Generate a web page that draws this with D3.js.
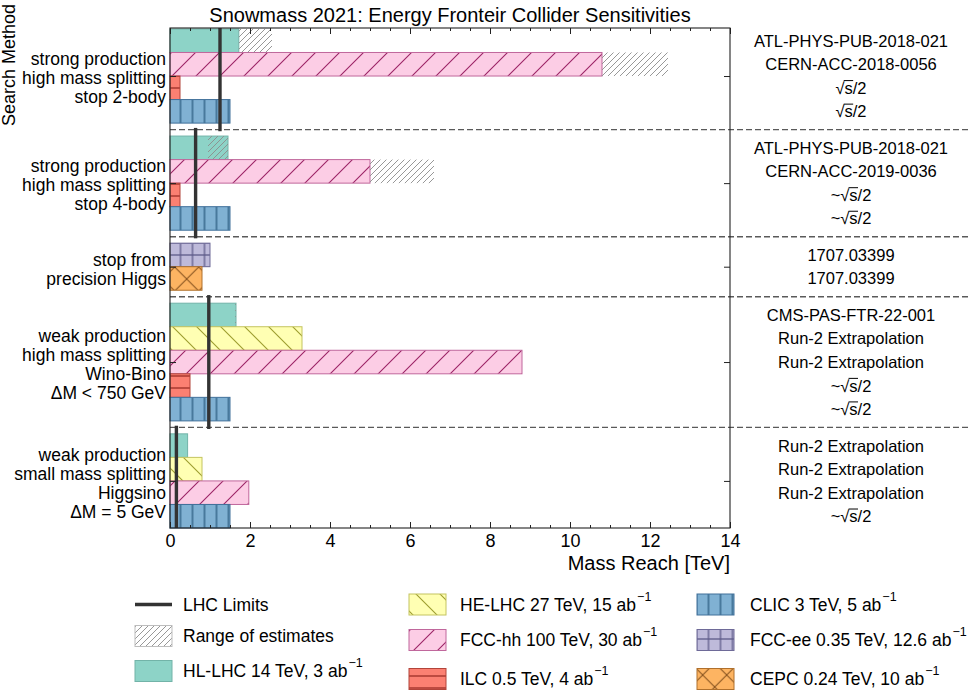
<!DOCTYPE html>
<html>
<head>
<meta charset="utf-8">
<script src="https://cdn.jsdelivr.net/npm/d3@7"></script>
<style>
  body { margin: 0; background: #fff; }
  svg { display: block; }
  text { font-family: "Liberation Sans", Arial, Helvetica, sans-serif; fill: #000; }
</style>
</head>
<body>
<svg id="chart" width="970" height="693"></svg>
<script>
// ---- Search groups (top to bottom) ----
const groupLabels = [
  ["strong production", "high mass splitting", "stop 2-body"],
  ["strong production", "high mass splitting", "stop 4-body"],
  ["stop from", "precision Higgs"],
  ["weak production", "high mass splitting", "Wino-Bino", "ΔM < 750 GeV"],
  ["weak production", "small mass splitting", "Higgsino", "ΔM = 5 GeV"]
];

// Collider shown in each row of each group
const groupColliders = [
  ["HL-LHC", "FCC-hh", "ILC", "CLIC"],
  ["HL-LHC", "FCC-hh", "ILC", "CLIC"],
  ["FCC-ee", "CEPC"],
  ["HL-LHC", "HE-LHC", "FCC-hh", "ILC", "CLIC"],
  ["HL-LHC", "HE-LHC", "FCC-hh", "CLIC"]
];

// Mass reach in TeV for each row
const groupReach = [
  [1.72, 10.8, 0.25, 1.5],
  [1.45, 5.0, 0.25, 1.5],
  [1.0, 0.8],
  [1.65, 3.3, 8.8, 0.5, 1.5],
  [0.44, 0.8, 1.97, 1.5]
];

// Reference for each row
const groupRefs = [
  ["ATL-PHYS-PUB-2018-021", "CERN-ACC-2018-0056", "√s/2", "√s/2"],
  ["ATL-PHYS-PUB-2018-021", "CERN-ACC-2019-0036", "~√s/2", "~√s/2"],
  ["1707.03399", "1707.03399"],
  ["CMS-PAS-FTR-22-001", "Run-2 Extrapolation", "Run-2 Extrapolation", "~√s/2", "~√s/2"],
  ["Run-2 Extrapolation", "Run-2 Extrapolation", "Run-2 Extrapolation", "~√s/2"]
];

// Current LHC limits per group (TeV); null where none is shown
const lhcLimits = [1.25, 0.64, null, 0.97, 0.16];

// Range of estimates: [group, row, from TeV, to TeV]
const estimateRanges = [
  [0, 0, 1.72, 2.55],
  [0, 1, 10.8, 12.45],
  [1, 0, 0.95, 1.45],
  [1, 1, 5.0, 6.6],
  [3, 0, 1.63, 1.65]
];

// Axis ticks
const xMajorTicks = [0, 2, 4, 6, 8, 10, 12, 14];
const xMinorTicks = d3.range(0, 14.01, 0.5);

// Legend entries
const legendLabels = [
  { text: "LHC Limits", kind: "line" },
  { text: "Range of estimates", kind: "range" },
  { text: "HL-LHC 14 TeV, 3 ab", sup: "−1", kind: "HL-LHC" },
  { text: "HE-LHC 27 TeV, 15 ab", sup: "−1", kind: "HE-LHC" },
  { text: "FCC-hh 100 TeV, 30 ab", sup: "−1", kind: "FCC-hh" },
  { text: "ILC 0.5 TeV, 4 ab", sup: "−1", kind: "ILC" },
  { text: "CLIC 3 TeV, 5 ab", sup: "−1", kind: "CLIC" },
  { text: "FCC-ee 0.35 TeV, 12.6 ab", sup: "−1", kind: "FCC-ee" },
  { text: "CEPC 0.24 TeV, 10 ab", sup: "−1", kind: "CEPC" }
];

// ---- Styles ----
const colliderStyle = {
  "HL-LHC": { fill: "#8dd3c7", edge: "#72b3a8", hatch: null },
  "HE-LHC": { fill: "#ffffb3", edge: "#c4c460", hatch: "back", ink: "#9c9c2c" },
  "FCC-hh": { fill: "#fccde5", edge: "#c0679c", hatch: "fwd", ink: "#9c2466" },
  "ILC":    { fill: "#fb8072", edge: "#b2443a", hatch: "horiz", ink: "#a3322a" },
  "CLIC":   { fill: "#80b1d3", edge: "#40709a", hatch: "vert", ink: "#3a6a8e" },
  "FCC-ee": { fill: "#bebada", edge: "#6e6a98", hatch: "plus", ink: "#5d5a88" },
  "CEPC":   { fill: "#fdb462", edge: "#b0702c", hatch: "cross", ink: "#8a5520" }
};

const svg = d3.select("#chart");
const defs = svg.append("defs");

const plot = { left: 170, right: 730, top: 28, bottom: 528 };
const GAP = 0.55;

// Build row positions in band units
const rows = [];
const groups = [];
let pos = 0;
groupColliders.forEach((cols, gi) => {
  const start = pos;
  cols.forEach((c, ri) => {
    rows.push({ g: gi, r: ri, collider: c, value: groupReach[gi][ri], ref: groupRefs[gi][ri], y0: pos });
    pos += 1;
  });
  groups.push({ start: start, end: pos });
  if (gi < groupColliders.length - 1) pos += GAP;
});

const x = d3.scaleLinear().domain([0, 14]).range([plot.left, plot.right]);
const y = d3.scaleLinear().domain([-0.04, pos]).range([plot.top, plot.bottom]);

// ---- Hatch patterns (anchored to page space) ----
function pattern(id, w, h, px, py, segs, color, sw, bg) {
  const p = defs.append("pattern").attr("id", id)
    .attr("patternUnits", "userSpaceOnUse")
    .attr("width", w).attr("height", h).attr("x", px).attr("y", py);
  if (bg) p.append("rect").attr("width", w).attr("height", h).attr("fill", bg);
  segs.forEach(s => p.append("line")
    .attr("x1", s[0]).attr("y1", s[1]).attr("x2", s[2]).attr("y2", s[3])
    .attr("stroke", color).attr("stroke-width", sw).attr("stroke-linecap", "square"));
}
const fwd24 = [[0, 24, 24, 0], [-2, 2, 2, -2], [22, 26, 26, 22]];
const back24 = [[0, 0, 24, 24], [-2, 22, 2, 26], [22, -2, 26, 2]];
Object.entries(colliderStyle).forEach(([name, s]) => {
  const id = "hatch-" + name;
  if (s.hatch === "fwd") pattern(id, 24, 24, 8, 0, fwd24, s.ink, 1.1, s.fill);
  else if (s.hatch === "back") pattern(id, 24, 24, 14, 0, back24, s.ink, 1.1, s.fill);
  else if (s.hatch === "vert") pattern(id, 12, 12, 174.5, 0, [[6, -1, 6, 13]], s.ink, 1.6, s.fill);
  else if (s.hatch === "horiz") pattern(id, 12, 12, 0, -2, [[-1, 6, 13, 6]], s.ink, 1.4, s.fill);
  else if (s.hatch === "plus") pattern(id, 12, 12, 174.5, -3, [[6, -1, 6, 13], [-1, 6, 13, 6]], s.ink, 1.3, s.fill);
  else if (s.hatch === "cross") pattern(id, 24, 24, 174.7, 267, [[0, 0, 24, 24], [0, 24, 24, 0]], s.ink, 1.1, s.fill);
});
pattern("hatch-range", 6, 6, 0, 0, [[0, 6, 6, 0], [-1, 1, 1, -1], [5, 7, 7, 5]], "#8c8c8c", 0.9, null);

function barFill(c) {
  const s = colliderStyle[c];
  return s.hatch ? "url(#hatch-" + c + ")" : s.fill;
}

// ---- Group separators (run across the reference column too) ----
const sepYs = groups.slice(0, -1).map(g => y(g.end + GAP / 2));
svg.append("g").selectAll("line").data(sepYs).join("line")
  .attr("x1", plot.left).attr("x2", 970)
  .attr("y1", d => d).attr("y2", d => d)
  .attr("stroke", "#5a5a5a").attr("stroke-width", 1.4)
  .attr("stroke-dasharray", "6,3");

// ---- Bars ----
svg.append("g").selectAll("rect").data(rows).join("rect")
  .attr("x", x(0))
  .attr("y", d => y(d.y0))
  .attr("width", d => x(d.value) - x(0))
  .attr("height", d => y(d.y0 + 1) - y(d.y0))
  .attr("fill", d => barFill(d.collider))
  .attr("stroke", d => colliderStyle[d.collider].edge)
  .attr("stroke-width", 1);

// ---- Range of estimates ----
svg.append("g").selectAll("rect").data(estimateRanges).join("rect")
  .attr("x", d => x(d[2]))
  .attr("y", d => y(groups[d[0]].start + d[1]))
  .attr("width", d => x(d[3]) - x(d[2]))
  .attr("height", d => y(1) - y(0))
  .attr("fill", "url(#hatch-range)")
  .attr("stroke", "none");

// ---- LHC limit lines ----
const limitData = lhcLimits.map((v, gi) => ({ v, gi })).filter(d => d.v !== null);
svg.append("g").selectAll("line").data(limitData).join("line")
  .attr("x1", d => x(d.v)).attr("x2", d => x(d.v))
  .attr("y1", d => Math.max(plot.top, y(groups[d.gi].start - GAP / 2 - 0.07)))
  .attr("y2", d => Math.min(plot.bottom, y(groups[d.gi].end + GAP / 2 + 0.07)))
  .attr("stroke", "#333").attr("stroke-width", 3.4);

// ---- Axes ----
const groupCenters = groups.map(g => (g.start + g.end) / 2);

svg.append("g").attr("transform", `translate(0,${plot.bottom})`)
  .call(d3.axisBottom(x).tickValues(xMinorTicks).tickSize(-3).tickFormat(""))
  .call(g => g.select(".domain").remove());
svg.append("g").attr("transform", `translate(0,${plot.bottom})`)
  .call(d3.axisBottom(x).tickValues(xMajorTicks).tickSize(-6).tickPadding(6).tickFormat(d3.format("d")))
  .call(g => g.select(".domain").remove())
  .call(g => g.selectAll("text").style("font-size", "18px").attr("fill", "#000")
    .style("font-family", "'Liberation Sans', Arial, sans-serif"));
svg.append("g").attr("transform", `translate(0,${plot.top})`)
  .call(d3.axisTop(x).tickValues(xMinorTicks).tickSize(-3).tickFormat(""))
  .call(g => g.select(".domain").remove());
svg.append("g").attr("transform", `translate(0,${plot.top})`)
  .call(d3.axisTop(x).tickValues(xMajorTicks).tickSize(-6).tickFormat(""))
  .call(g => g.select(".domain").remove());
svg.append("g").attr("transform", `translate(${plot.right},0)`)
  .call(d3.axisLeft(y).tickValues(groupCenters).tickSize(6).tickFormat(""))
  .call(g => g.select(".domain").remove());
svg.append("g").attr("transform", `translate(${plot.left},0)`)
  .call(d3.axisRight(y).tickValues(groupCenters).tickSize(6).tickFormat(""))
  .call(g => g.select(".domain").remove());
svg.selectAll(".tick line").attr("stroke", "#222").attr("stroke-width", 1);

// Frame
svg.append("rect")
  .attr("x", plot.left).attr("y", plot.top)
  .attr("width", plot.right - plot.left).attr("height", plot.bottom - plot.top)
  .attr("fill", "none").attr("stroke", "#222").attr("stroke-width", 1.1);

// ---- Group labels (left) ----
const LINE = 19;
groupLabels.forEach((lines, gi) => {
  const cy = y(groupCenters[gi]) + 2;
  const t = svg.append("text").attr("text-anchor", "end").style("font-size", "17.5px");
  lines.forEach((ln, i) => {
    t.append("tspan").attr("x", plot.left - 4)
      .attr("y", cy + (i - (lines.length - 1) / 2) * LINE + 6.3)
      .text(ln);
  });
});

// ---- Reference column (right) ----
function drawRef(str, cx, base, fs) {
  const t = svg.append("text").attr("x", cx).attr("y", base)
    .attr("text-anchor", "middle").style("font-size", fs + "px").text(str);
  const i = str.indexOf("√s");
  if (i >= 0) {
    const node = t.node();
    const r = node.getExtentOfChar(i);
    const s = node.getExtentOfChar(i + 1);
    const oy = base - fs * 0.80;
    svg.append("line")
      .attr("x1", r.x + r.width - 0.8).attr("x2", s.x + s.width + 0.4)
      .attr("y1", oy).attr("y2", oy)
      .attr("stroke", "#000").attr("stroke-width", 1);
  }
}
rows.forEach(d => drawRef(d.ref, 851, y(d.y0 + 0.5) + 6, 16.5));

// ---- Title and axis titles ----
svg.append("text").attr("x", (plot.left + plot.right) / 2).attr("y", 22)
  .attr("text-anchor", "middle").style("font-size", "20px")
  .text("Snowmass 2021: Energy Fronteir Collider Sensitivities");
svg.append("text").attr("x", plot.right).attr("y", 570)
  .attr("text-anchor", "end").style("font-size", "20px")
  .text("Mass Reach [TeV]");
svg.append("text").attr("transform", "translate(15,65) rotate(-90)")
  .attr("text-anchor", "middle").style("font-size", "18px")
  .text("Search Method");

// ---- Legend ----
const legendCols = [
  { hx: 135, tx: 183, rowsY: [604.5, 636, 671] },
  { hx: 409, tx: 460, rowsY: [604.5, 640, 679] },
  { hx: 697, tx: 750, rowsY: [604.5, 640, 679] }
];
const legend = svg.append("g");
legendLabels.forEach((item, k) => {
  const col = legendCols[Math.floor(k / 3)];
  const cy = col.rowsY[k % 3];
  if (item.kind === "line") {
    legend.append("line").attr("x1", col.hx).attr("x2", col.hx + 37)
      .attr("y1", cy).attr("y2", cy).attr("stroke", "#333").attr("stroke-width", 3.4);
  } else if (item.kind === "range") {
    legend.append("rect").attr("x", col.hx).attr("y", cy - 10.5).attr("width", 37).attr("height", 21)
      .attr("fill", "url(#hatch-range)").attr("stroke", "#bdbdbd").attr("stroke-width", 1);
  } else {
    legend.append("rect").attr("x", col.hx).attr("y", cy - 10.5).attr("width", 37).attr("height", 21)
      .attr("fill", barFill(item.kind)).attr("stroke", colliderStyle[item.kind].edge).attr("stroke-width", 1);
  }
  const t = legend.append("text").attr("x", col.tx).attr("y", cy + 6.3).style("font-size", "17.5px");
  t.append("tspan").text(item.text);
  if (item.sup) {
    t.append("tspan").attr("dx", 1).attr("dy", -10).style("font-size", "12.5px").text(item.sup);
  }
});
</script>
</body>
</html>
